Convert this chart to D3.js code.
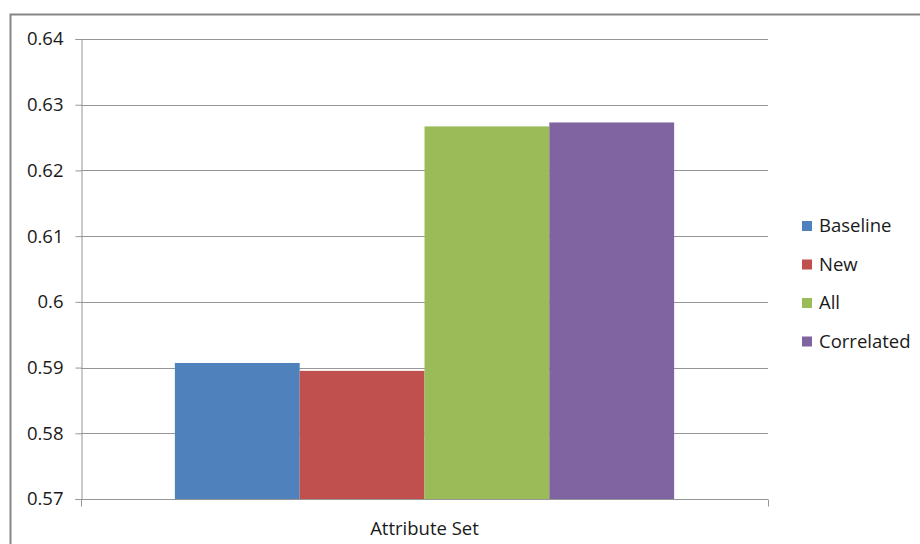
<!DOCTYPE html>
<html>
<head>
<meta charset="utf-8">
<script src="https://cdn.jsdelivr.net/npm/d3@7"></script>
<style>
  html, body { margin: 0; padding: 0; background: #fff; }
  svg { display: block; font-family: "Open Sans", Lato, sans-serif; }
</style>
</head>
<body>
<svg id="chart" width="920" height="544"></svg>
<script>
// data
const groups = ['Attribute Set'];
const series = ['Baseline', 'New', 'All', 'Correlated'];
const values = [0.5907, 0.5895, 0.6267, 0.6273];
const colors = ['#4f81bd', '#c0504d', '#9bbb59', '#8064a2'];
const yTicks = [0.57, 0.58, 0.59, 0.6, 0.61, 0.62, 0.63, 0.64];

const W = 920, H = 544;
const M = { t: 39, r: 152, b: 45, l: 81 };
const iw = W - M.l - M.r, ih = H - M.t - M.b;
const FS = '18.5px';

const svg = d3.select('#chart');

// outer chart frame (runs off the right/bottom edge like the source)
svg.append('rect')
  .attr('x', 10.5).attr('y', 14.5)
  .attr('width', W).attr('height', H)
  .attr('fill', 'none').attr('stroke', '#868686').attr('stroke-width', 2);

const g = svg.append('g').attr('transform', `translate(${M.l},${M.t})`);

const y = d3.scaleLinear().domain([0.57, 0.64]).range([ih, 0]);
const x0 = d3.scaleBand().domain(groups).range([0, iw]).paddingInner(0).paddingOuter(0.188);
const x1 = d3.scaleBand().domain(series).range([0, x0.bandwidth()]);

// gridlines
g.append('g').selectAll('line')
  .data(yTicks).join('line')
    .attr('x1', 0).attr('x2', iw)
    .attr('y1', d => Math.round(y(d)) + 0.5).attr('y2', d => Math.round(y(d)) + 0.5)
    .attr('stroke', '#969696').attr('stroke-width', 1);

// bars
const rows = series.map((s, i) => ({ s, v: values[i], c: colors[i] }));
g.append('g').selectAll('rect')
  .data(rows).join('rect')
    .attr('x', d => x0(groups[0]) + x1(d.s))
    .attr('y', d => y(d.v))
    .attr('width', x1.bandwidth())
    .attr('height', d => ih - y(d.v))
    .attr('fill', d => d.c);

// y axis
const yAxis = d3.axisLeft(y).tickValues(yTicks).tickSize(6).tickPadding(12)
  .tickFormat(d => d3.format('')(+d.toFixed(2)));
const ya = g.append('g').attr('transform', 'translate(0.5,0)').call(yAxis)
  .attr('font-family', null).attr('font-size', null);
ya.select('.domain').attr('stroke', '#969696');
ya.selectAll('.tick line').attr('stroke', '#969696');
ya.selectAll('.tick text').attr('fill', '#1a1a1a').style('font-size', FS);

// x axis
const xa = g.append('g').attr('transform', `translate(0,${Math.round(ih) + 0.5})`);
xa.append('line').attr('x1', 0).attr('x2', iw).attr('stroke', '#969696');
xa.selectAll('line.tk').data([0, iw]).join('line').attr('class', 'tk')
  .attr('x1', d => d + 0.5).attr('x2', d => d + 0.5).attr('y1', 0).attr('y2', 7)
  .attr('stroke', '#969696');
xa.append('text')
  .attr('x', x0(groups[0]) + x0.bandwidth() / 2).attr('y', 35)
  .attr('text-anchor', 'middle').attr('fill', '#1a1a1a')
  .style('font-size', FS)
  .text(groups[0]);

// legend
const lg = svg.append('g').attr('transform', 'translate(802,226)');
const li = lg.selectAll('g').data(rows).join('g')
  .attr('transform', (d, i) => `translate(0,${i * 38.5})`);
li.append('rect').attr('x', 0).attr('y', -5).attr('width', 10).attr('height', 10).attr('fill', d => d.c);
li.append('text').attr('x', 17).attr('y', 0).attr('dy', '0.35em')
  .attr('fill', '#1a1a1a').style('font-size', FS).text(d => d.s);
</script>
</body>
</html>
